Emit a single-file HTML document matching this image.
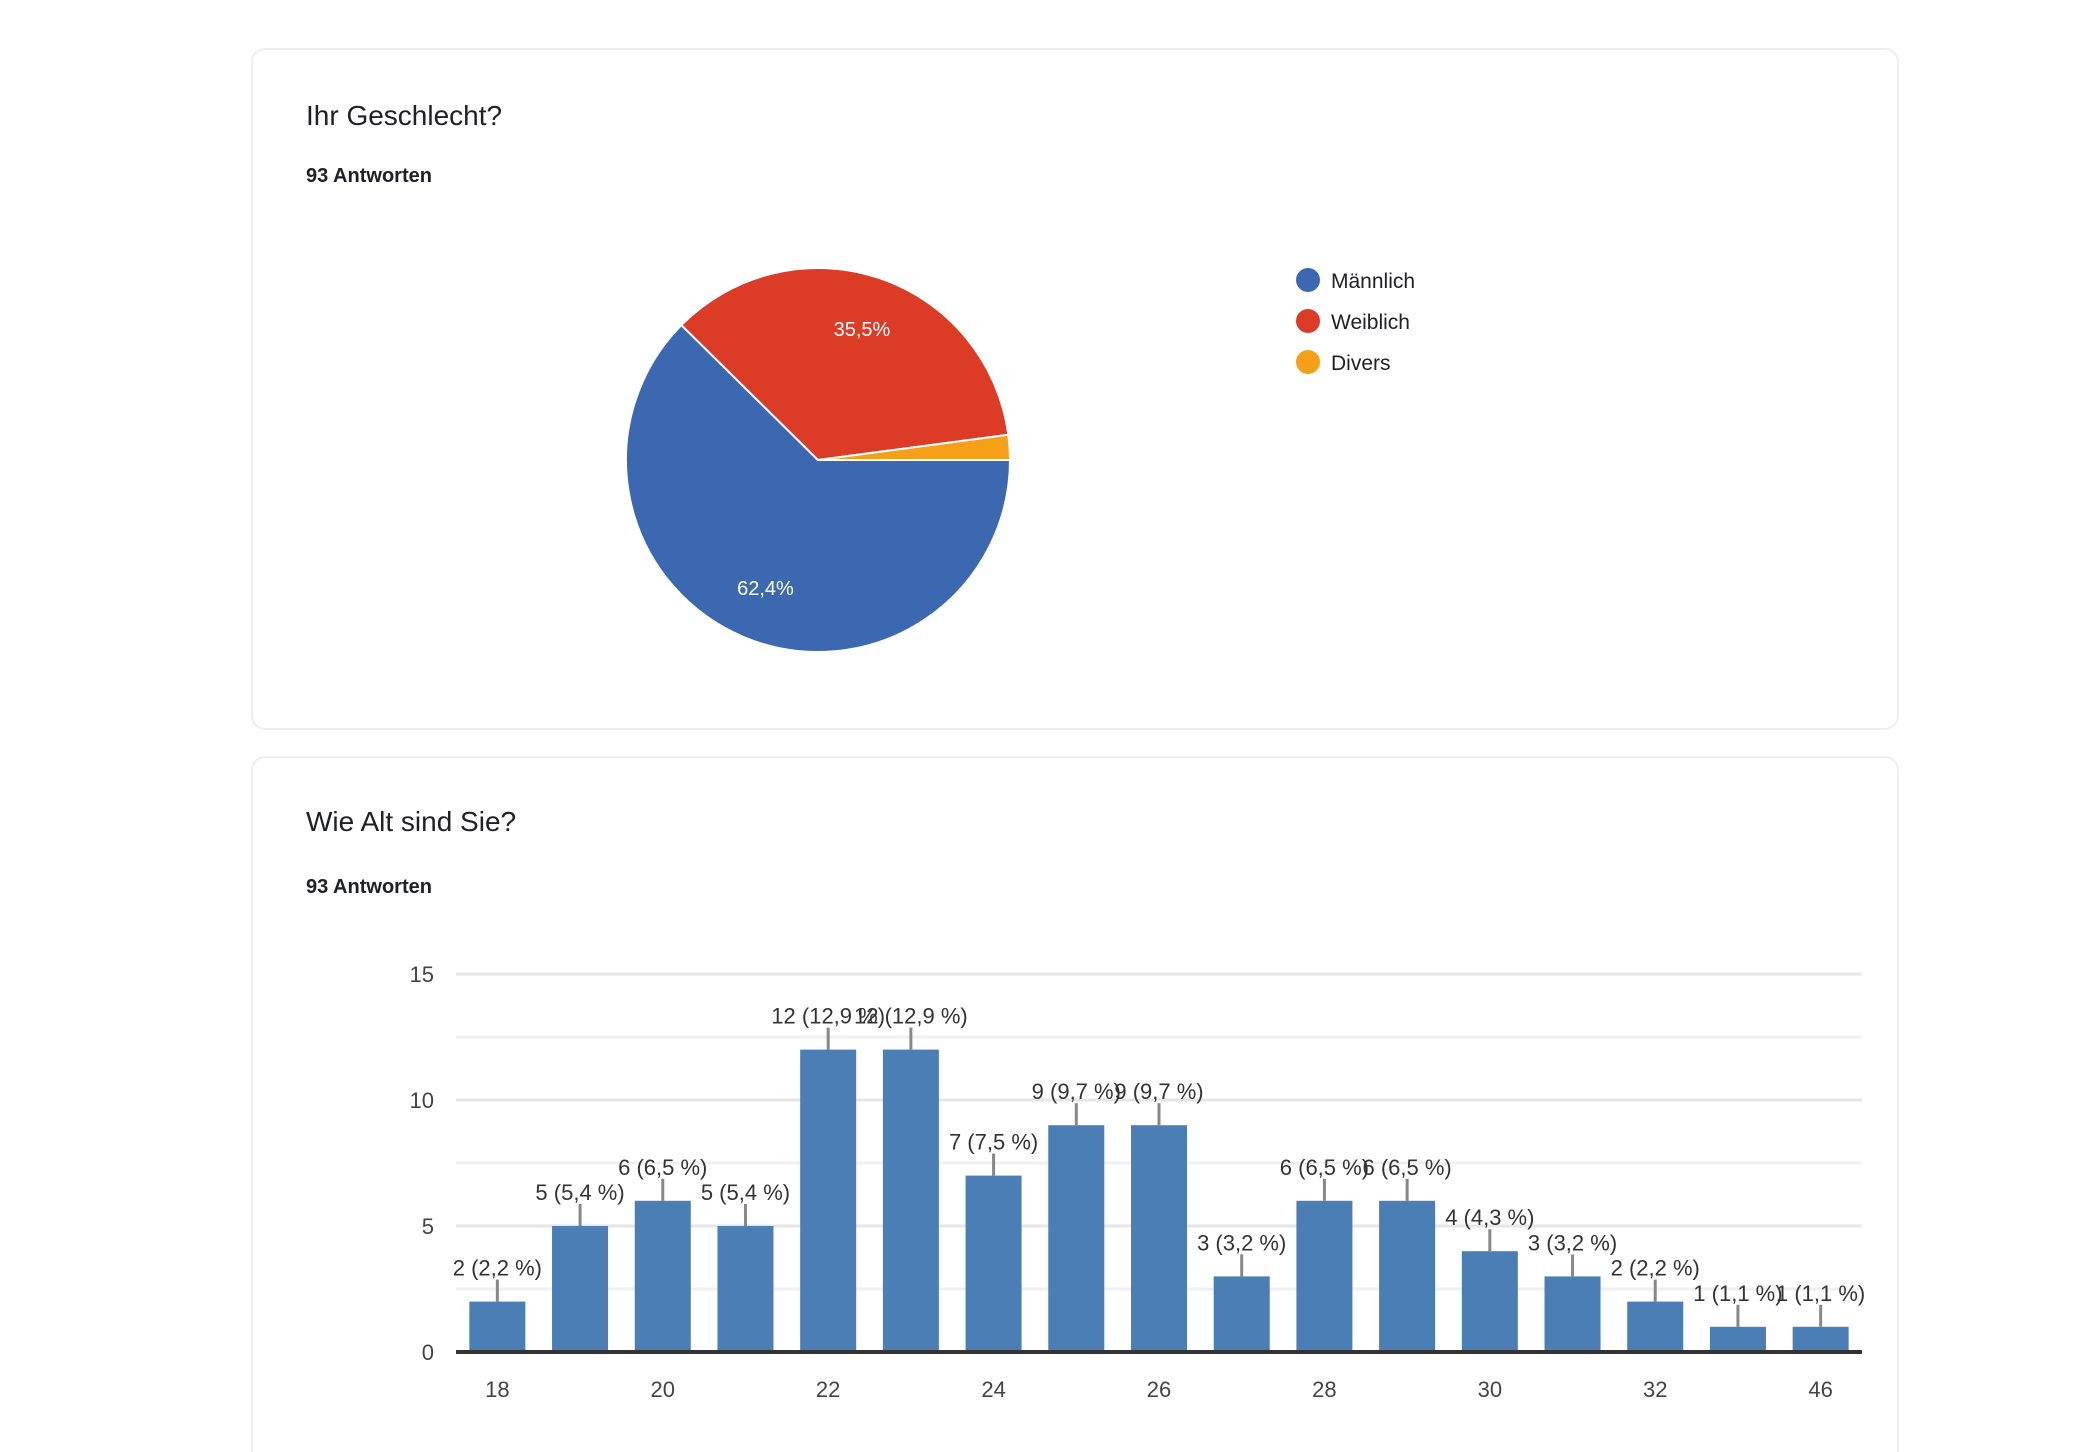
<!DOCTYPE html>
<html style="width:2084px;height:1452px;overflow:hidden"><head><meta charset="utf-8">
<style>
body{margin:0;width:2084px;height:1452px;background:#fff;overflow:hidden;font-family:"Liberation Sans",Arial,sans-serif;color:#202124;position:relative}
.card{position:absolute;left:251px;width:1644px;border:2px solid #eceef1;border-radius:14px;background:#fff}
.title{position:absolute;left:53px;font-size:28px;color:#202124}
.sub{position:absolute;left:53px;font-size:20px;font-weight:bold;color:#202124}
svg text{font-family:"Liberation Sans",Arial,sans-serif}
</style></head><body>
<div class="card" style="top:48px;height:678px">
  <div class="title" style="top:50px">Ihr Geschlecht?</div>
  <div class="sub" style="top:115px">93 Antworten</div>
</div>
<div class="card" style="top:756px;height:694px;border-bottom:none;border-radius:14px 14px 0 0">
  <div class="title" style="top:48px">Wie Alt sind Sie?</div>
  <div class="sub" style="top:118px">93 Antworten</div>
</div>
<svg id="svg" width="2084" height="1452" style="position:absolute;left:0;top:0"></svg>
<script>
const pieLabels=["Männlich","Weiblich","Divers"];
const pieValues=[62.4,35.5,2.1];
const pieColors=["#3c68b1","#dc3b26","#f6a01a"];
const ageCats=["18","19","20","21","22","23","24","25","26","27","28","29","30","31","32","35","46"];
const ageCounts=[2,5,6,5,12,12,7,9,9,3,6,6,4,3,2,1,1];
const agePcts=["2,2","5,4","6,5","5,4","12,9","12,9","7,5","9,7","9,7","3,2","6,5","6,5","4,3","3,2","2,2","1,1","1,1"];
const yTicks=[0,5,10,15];
const NS="http://www.w3.org/2000/svg";
const svg=document.getElementById('svg');
function mk(t,a,p){const e=document.createElementNS(NS,t);for(const k in a)e.setAttribute(k,a[k]);(p||svg).appendChild(e);return e;}
// pie
const cx=818,cy=460,r=192;
const total=pieValues.reduce((a,b)=>a+b,0);
let ang=0;
pieValues.forEach((v,i)=>{
  const a0=ang,a1=ang+v/total*2*Math.PI;ang=a1;
  const x0=cx+r*Math.cos(a0),y0=cy+r*Math.sin(a0),x1=cx+r*Math.cos(a1),y1=cy+r*Math.sin(a1);
  const p=mk('path',{d:`M${cx},${cy}L${x0},${y0}A${r},${r} 0 ${a1-a0>Math.PI?1:0} 1 ${x1},${y1}Z`,fill:pieColors[i],stroke:'#fff','stroke-width':2});
  
  
  if(v>10){const m=(a0+a1)/2;
    const t=mk('text',{x:cx+r*0.72*Math.cos(m),y:cy+r*0.72*Math.sin(m)+7,'text-anchor':'middle','font-size':20,fill:'#fff'});
    t.textContent=v.toFixed(1).replace('.',',')+'%';
    
    }
});
pieLabels.forEach((l,i)=>{
  const y=280+i*41;
  const c=mk('circle',{cx:1308,cy:y,r:12,fill:pieColors[i]});
  
  
  const t=mk('text',{x:1331,y:y+8,'font-size':21,fill:'#202124'});t.textContent=l;
  
  
});
// bar chart
const L=456,R=1862,Y0=1352,Ytop=974,ymax=15;
const ys=v=>Y0-(v/ymax)*(Y0-Ytop);
const band=(R-L)/ageCats.length;
const xc=i=>L+band*(i+0.5);
for(let g=2.5;g<=15;g+=2.5){const l=mk('line',{x1:L,x2:R,y1:ys(g),y2:ys(g),stroke:g%5===0?'#e6e6e6':'#f0f0f0','stroke-width':3});
  }
yTicks.forEach(v=>{const t=mk('text',{x:434,y:ys(v)+8,'text-anchor':'end','font-size':22,fill:'#444'});t.textContent=v;
  });
ageCounts.forEach((v,i)=>{
  const b=mk('rect',{x:xc(i)-28,y:ys(v),width:56,height:Y0-ys(v),fill:'#4a7eb5'});
  
  
  const tk=mk('line',{x1:xc(i),x2:xc(i),y1:ys(v),y2:ys(v)-22,stroke:'#888','stroke-width':3});
  
  const t=mk('text',{x:xc(i),y:ys(v)-26,'text-anchor':'middle','font-size':22,fill:'#333'});
  t.textContent=v+' ('+agePcts[i]+' %)';
  
  if(i%2===0||i===ageCats.length-1){const x=mk('text',{x:xc(i),y:1397,'text-anchor':'middle','font-size':22,fill:'#444'});x.textContent=ageCats[i];
    }
});
const base=mk('line',{x1:L,x2:R,y1:Y0,y2:Y0,stroke:'#333','stroke-width':4});

</script>
</body></html>
